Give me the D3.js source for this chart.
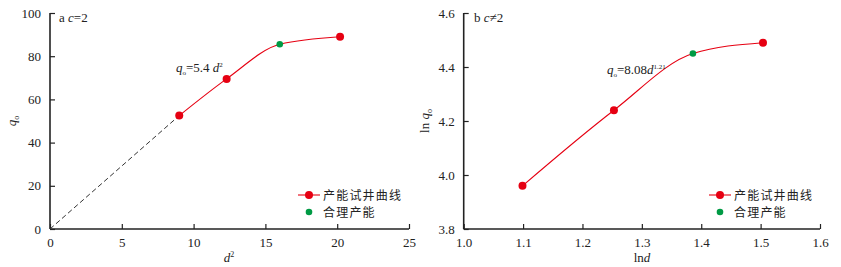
<!DOCTYPE html>
<html>
<head>
<meta charset="utf-8">
<script src="https://cdn.jsdelivr.net/npm/d3@7"></script>
<style>
  body { margin: 0; background: #fff; }
  text { font-family: "Liberation Serif", "DejaVu Serif", serif; fill: #222; }
  .cjk { font-family: "Noto Sans CJK SC", sans-serif; }
</style>
</head>
<body>
<svg id="chart" width="841" height="267"></svg>
<script>
// panel a: qo vs d^2
const dSq = [9.0, 12.3, 16.0, 20.2];
const qo = [52.5, 69.5, 85.5, 89.0];
const aGreen = [false, false, true, false];
const aTicksX = [0, 5, 10, 15, 20, 25];
const aTicksY = [0, 20, 40, 60, 80, 100];

// panel b: ln qo vs ln d
const lnD = [1.099, 1.253, 1.386, 1.504];
const lnQ = [3.96, 4.24, 4.45, 4.49];
const bGreen = [false, false, true, false];
const bTicksX = [1.0, 1.1, 1.2, 1.3, 1.4, 1.5, 1.6];
const bTicksY = [3.8, 4.0, 4.2, 4.4, 4.6];

const legendNames = ["产能试井曲线", "合理产能"];
const RED = "#e60012", GREEN = "#009a44";

const svg = d3.select("#chart");

function panel(opt) {
  const x = d3.scaleLinear().domain(opt.xDomain).range([opt.left, opt.right]);
  const y = d3.scaleLinear().domain(opt.yDomain).range([229, 13]);

  // axes with inward ticks
  const xa = svg.append("g").attr("transform", "translate(0,229)")
    .call(d3.axisBottom(x).tickValues(opt.xTicks).tickSize(-5).tickPadding(9).tickFormat(opt.xFmt));
  const ya = svg.append("g").attr("transform", `translate(${opt.left},0)`)
    .call(d3.axisLeft(y).tickValues(opt.yTicks).tickSize(-5).tickPadding(9).tickFormat(opt.yFmt));
  [xa, ya].forEach(a => {
    a.select(".domain").attr("stroke", "#222").attr("stroke-width", 1.6);
    a.selectAll(".tick line").attr("stroke", "#222").attr("stroke-width", 1.2);
    a.selectAll("text").attr("font-size", 13).attr("font-family", "Liberation Serif").attr("fill", "#222");
  });
  ya.select(".domain").attr("d", `M0,229V13`);
  xa.select(".domain").attr("d", `M${opt.left},0H${opt.right}`);

  const pts = opt.xs.map((v, i) => ({ x: v, y: opt.ys[i], green: opt.green[i] }));

  if (opt.dash) {
    svg.append("line")
      .attr("x1", x(0)).attr("y1", y(0))
      .attr("x2", x(pts[0].x)).attr("y2", y(pts[0].y))
      .attr("stroke", "#333").attr("stroke-width", 1).attr("stroke-dasharray", "5,3");
  }

  const line = d3.line().x(d => x(d.x)).y(d => y(d.y)).curve(d3.curveMonotoneX);
  svg.append("path").datum(pts).attr("d", line)
    .attr("fill", "none").attr("stroke", RED).attr("stroke-width", 1.1);

  svg.append("g").selectAll("circle").data(pts).join("circle")
    .attr("cx", d => x(d.x)).attr("cy", d => y(d.y))
    .attr("r", d => d.green ? 3.3 : 4)
    .attr("fill", d => d.green ? GREEN : RED);

  // legend
  const lx = opt.legendX;
  svg.append("line").attr("x1", lx).attr("x2", lx + 22).attr("y1", 195).attr("y2", 195)
    .attr("stroke", RED).attr("stroke-width", 1.1);
  svg.append("circle").attr("cx", lx + 11).attr("cy", 195).attr("r", 4).attr("fill", RED);
  svg.append("circle").attr("cx", lx + 11).attr("cy", 212).attr("r", 3.3).attr("fill", GREEN);
  svg.append("text").attr("class", "cjk").attr("x", lx + 25).attr("y", 199.5)
    .attr("font-size", 12).attr("letter-spacing", 1.2).text(legendNames[0]);
  svg.append("text").attr("class", "cjk").attr("x", lx + 25).attr("y", 216.5)
    .attr("font-size", 12).attr("letter-spacing", 1.2).text(legendNames[1]);
}

panel({
  left: 50, right: 409, xDomain: [0, 25], yDomain: [0, 100],
  xTicks: aTicksX, yTicks: aTicksY, xFmt: d3.format("d"), yFmt: d3.format("d"),
  xs: dSq, ys: qo, green: aGreen, dash: true, legendX: 298
});
panel({
  left: 463.7, right: 820, xDomain: [1.0, 1.6], yDomain: [3.8, 4.6],
  xTicks: bTicksX, yTicks: bTicksY, xFmt: d3.format(".1f"), yFmt: d3.format(".1f"),
  xs: lnD, ys: lnQ, green: bGreen, dash: false, legendX: 709
});

// panel tags
const ta = svg.append("text").attr("x", 59).attr("y", 22).attr("font-size", 13);
ta.append("tspan").text("a ");
ta.append("tspan").attr("font-style", "italic").text("c");
ta.append("tspan").text("=2");
const tb = svg.append("text").attr("x", 474).attr("y", 22).attr("font-size", 13);
tb.append("tspan").text("b  ");
tb.append("tspan").attr("font-style", "italic").text("c");
tb.append("tspan").text("≠2");

// equations
const ea = svg.append("text").attr("x", 176).attr("y", 72).attr("font-size", 13);
ea.append("tspan").attr("font-style", "italic").text("q");
ea.append("tspan").attr("font-size", 7).attr("dy", 3).text("o");
ea.append("tspan").attr("dy", -3).text("=5.4 ");
ea.append("tspan").attr("font-style", "italic").text("d");
ea.append("tspan").attr("font-size", 7).attr("dy", -5).text("2");

const eb = svg.append("text").attr("x", 607).attr("y", 74).attr("font-size", 13);
eb.append("tspan").attr("font-style", "italic").text("q");
eb.append("tspan").attr("font-size", 7).attr("dy", 3).text("o");
eb.append("tspan").attr("dy", -3).text("=8.08");
eb.append("tspan").attr("font-style", "italic").text("d");
eb.append("tspan").attr("font-size", 7).attr("dy", -5).text("1.21");

// axis titles
const xla = svg.append("text").attr("x", 229).attr("y", 262).attr("text-anchor", "middle").attr("font-size", 13);
xla.append("tspan").attr("font-style", "italic").text("d");
xla.append("tspan").attr("font-size", 8).attr("dy", -5).text("2");

const yla = svg.append("text").attr("transform", "translate(16,121) rotate(-90)").attr("text-anchor", "middle").attr("font-size", 13);
yla.append("tspan").attr("font-style", "italic").text("q");
yla.append("tspan").attr("font-size", 8).attr("dy", 3).text("o");

const xlb = svg.append("text").attr("x", 642).attr("y", 262).attr("text-anchor", "middle").attr("font-size", 13);
xlb.append("tspan").text("ln");
xlb.append("tspan").attr("font-style", "italic").text("d");

const ylb = svg.append("text").attr("transform", "translate(429,121) rotate(-90)").attr("text-anchor", "middle").attr("font-size", 13);
ylb.append("tspan").text("ln ");
ylb.append("tspan").attr("font-style", "italic").text("q");
ylb.append("tspan").attr("font-size", 8).attr("dy", 3).text("o");
</script>
</body>
</html>
